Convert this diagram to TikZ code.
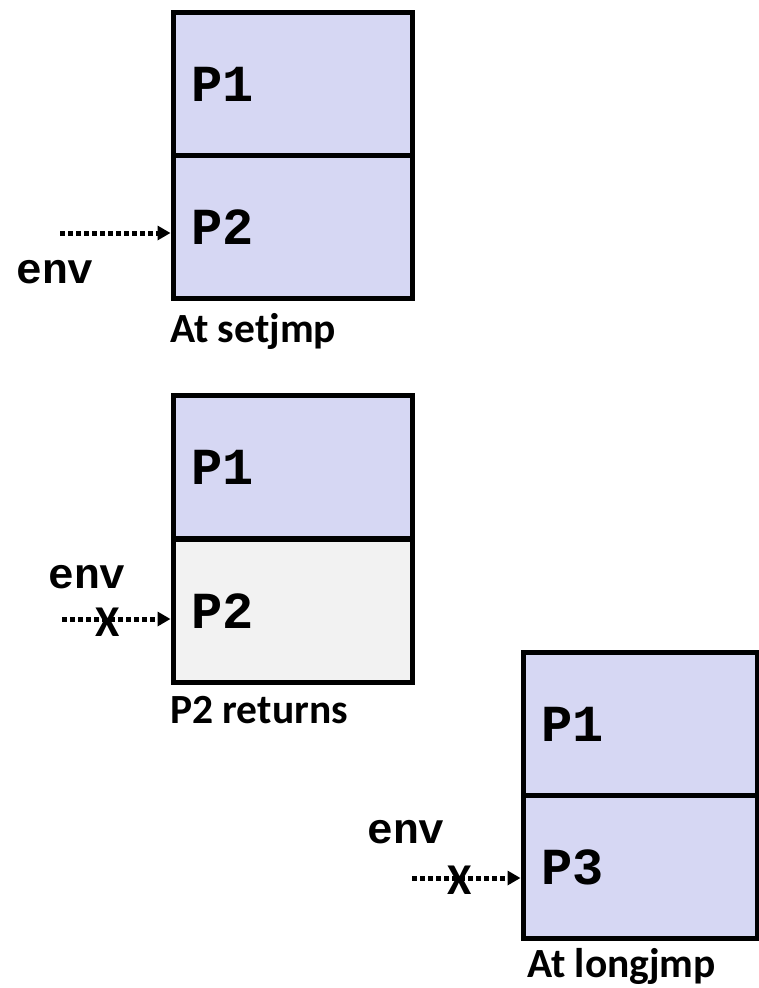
\documentclass[tikz,border=0pt]{standalone}
\usepackage{fontspec}
\setmainfont{Carlito}
\newfontfamily\codefont{Liberation Mono}
\usetikzlibrary{arrows.meta}
\definecolor{stackblue}{RGB}{214,215,243}
\definecolor{stackgray}{RGB}{242,242,242}
\begin{document}
\begin{tikzpicture}[x=1pt,y=-1pt,
  frame/.style={draw,line width=5pt,minimum width=239pt,minimum height=143pt,inner sep=0},
  proc/.style={anchor=west,inner sep=0,font=\codefont\bfseries\fontsize{52}{52}\selectfont},
  envlbl/.style={anchor=base,inner sep=0,font=\codefont\bfseries\fontsize{43}{43}\selectfont},
  caption/.style={anchor=base west,inner sep=0,font=\bfseries\fontsize{41.5}{41.5}\selectfont},
  cross/.style={inner sep=0,font=\bfseries\fontsize{44}{44}\selectfont},
  envptr/.style={line width=5pt,dash pattern=on 5pt off 3pt,-{Triangle[length=13pt,width=14pt]}}]
\useasboundingbox(0,0)rectangle(759,988);
% at setjmp
\node[frame,fill=stackblue](s1a)at(292.5,84){};
\node[frame,fill=stackblue](s1b)at(292.5,227){};
\node[proc]at([xshift=21pt]s1a.west){P1};
\node[proc]at([xshift=21pt]s1b.west){P2};
\coordinate(e1)at(60,233);
\draw[envptr](e1)--(e1-|s1b.west);
\node[envlbl](n1)at(55,283){env};
\node[caption](c1)at(170,342){At setjmp};
% P2 returns
\node[frame,fill=stackblue](s2a)at(292.5,467){};
\node[frame,fill=stackgray](s2b)at(292.5,611){};
\node[proc]at([xshift=21pt]s2a.west){P1};
\node[proc]at([xshift=21pt]s2b.west){P2};
\coordinate(e2)at(62,619);
\draw[envptr](e2)--(e2-|s2b.west);
\node[cross](x2)at(108,622){X};
\node[envlbl](n2)at(87,588){env};
\node[caption](c2)at(170,723){P2 returns};
% at longjmp
\node[frame,fill=stackblue,minimum width=234pt](s3a)at(640,724){};
\node[frame,fill=stackblue,minimum width=234pt](s3b)at(640,867){};
\node[proc]at([xshift=21pt]s3a.west){P1};
\node[proc]at([xshift=21pt]s3b.west){P3};
\coordinate(e3)at(412,878);
\draw[envptr](e3)--(e3-|s3b.west);
\node[cross](x3)at(460,880){X};
\node[envlbl](n3)at(406,843){env};
\node[caption](c3)at(527,977){At longjmp};
\end{tikzpicture}
\end{document}
